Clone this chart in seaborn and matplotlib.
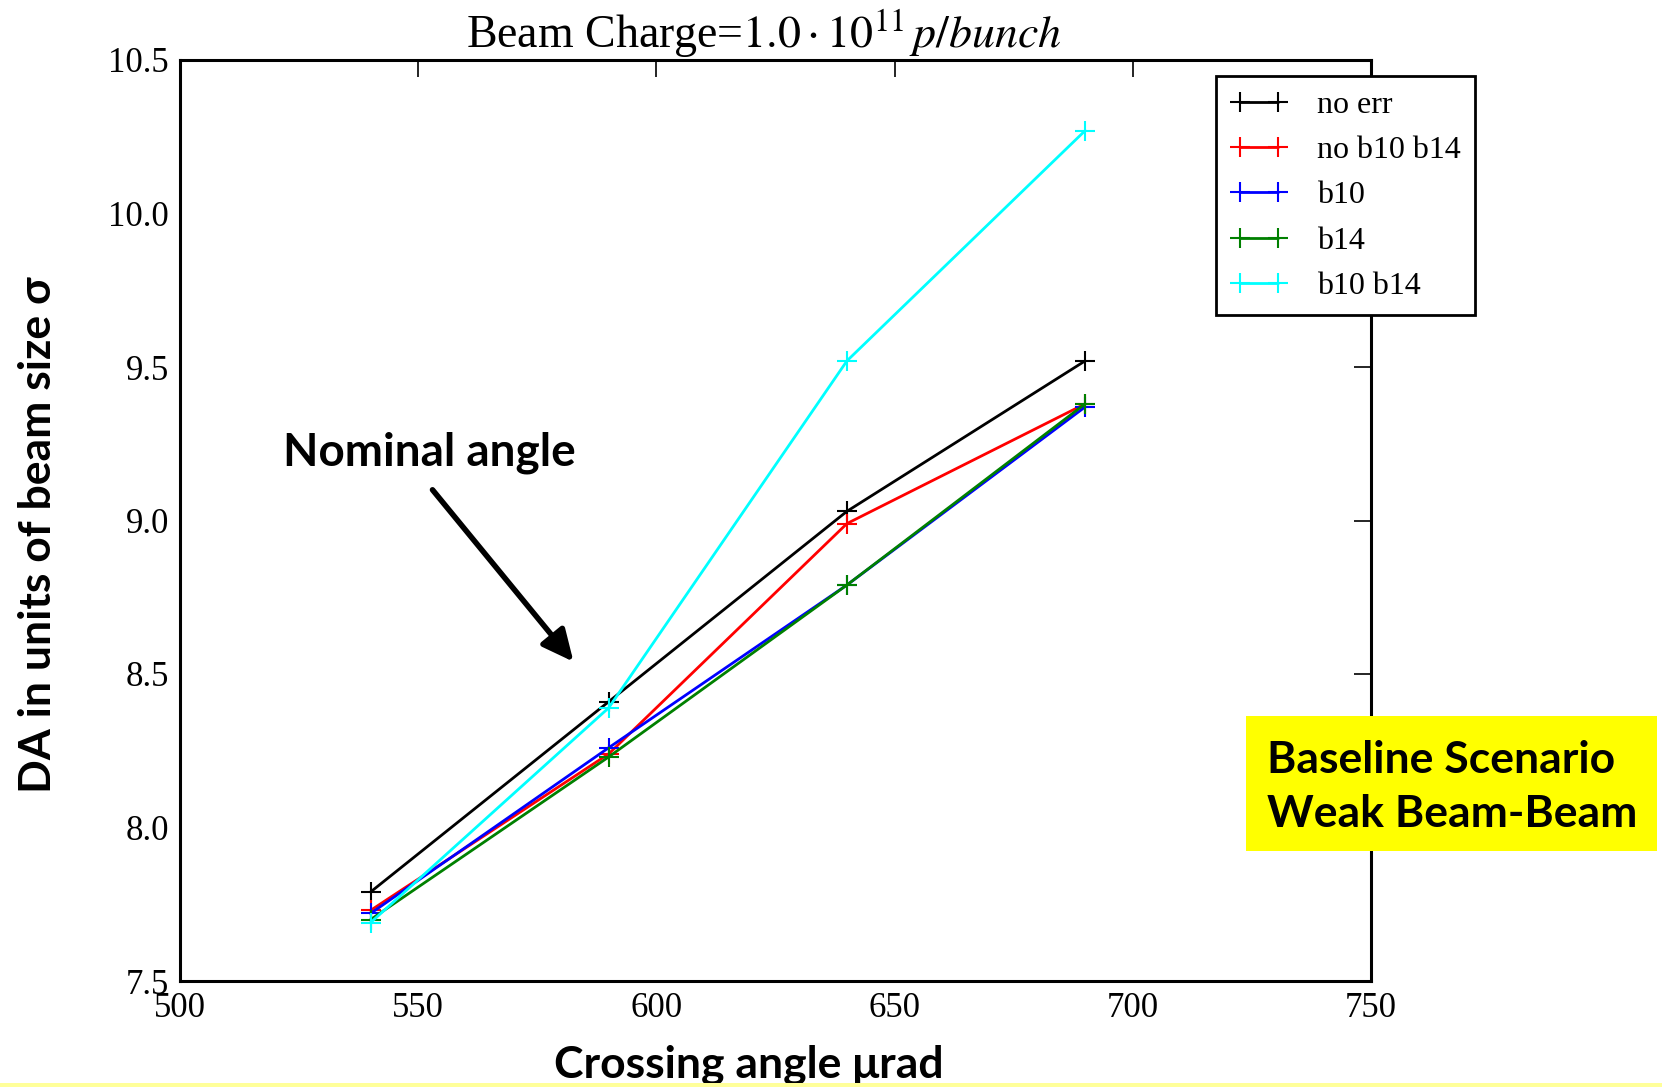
import matplotlib
matplotlib.use("Agg")
import matplotlib.pyplot as plt
import seaborn as sns
import pandas as pd

# Crossing angles (µrad) and dynamic aperture (units of beam sigma)
crossing_angle = [540, 590, 640, 690]
da_no_err = [7.79, 8.41, 9.03, 9.52]
da_no_b10_b14 = [7.73, 8.24, 8.99, 9.38]
da_b10 = [7.72, 8.26, 8.79, 9.37]
da_b14 = [7.70, 8.23, 8.79, 9.38]
da_b10_b14 = [7.69, 8.39, 9.52, 10.27]

series_names = ["no err", "no b10 b14", "b10", "b14", "b10 b14"]
series_values = [da_no_err, da_no_b10_b14, da_b10, da_b14, da_b10_b14]
series_colors = ["#000000", "#ff0000", "#0000ff", "#008000", "#00ffff"]

x_ticks = [500, 550, 600, 650, 700, 750]
y_ticks = [7.5, 8.0, 8.5, 9.0, 9.5, 10.0, 10.5]

sns.set_style("white")
plt.rcParams["font.family"] = ["Liberation Serif", "DejaVu Serif"]
plt.rcParams["mathtext.fontset"] = "stix"
plt.rcParams["text.color"] = "black"
plt.rcParams["axes.labelcolor"] = "black"
plt.rcParams["xtick.color"] = "black"
plt.rcParams["ytick.color"] = "black"

SANS_BOLD = ["Lato", "DejaVu Sans"]

fig = plt.figure(figsize=(16.62, 10.87), dpi=100)
ax = fig.add_axes([180 / 1662, 1 - 981 / 1087, 1191 / 1662, 921 / 1087])

df = pd.DataFrame({
    "angle": crossing_angle * len(series_names),
    "da": [v for vals in series_values for v in vals],
    "case": [n for n in series_names for _ in crossing_angle],
})

for name, color in zip(series_names, series_colors):
    sub = df[df["case"] == name]
    sns.lineplot(data=sub, x="angle", y="da", ax=ax, color=color, label=name,
                 marker="+", markersize=14, markeredgecolor=color,
                 markeredgewidth=1.5, linewidth=2.0)

ax.set_xlim(500, 750)
ax.set_ylim(7.5, 10.5)
ax.set_xticks(x_ticks)
ax.set_yticks(y_ticks)
ax.set_xticklabels([str(t) for t in x_ticks])
ax.set_yticklabels([f"{t:.1f}" for t in y_ticks])
ax.tick_params(axis="both", direction="in", length=12, width=1.2,
               labelsize=25, top=True, right=True, pad=8)
for sp in ax.spines.values():
    sp.set_linewidth(2.2)
    sp.set_color("black")

ax.set_title(r"Beam Charge=$1.0\cdot10^{11}\,p/bunch$", fontsize=33, pad=9,
             x=0.49)
ax.set_xlabel("Crossing angle \u03bcrad", fontsize=32, fontweight="bold",
              family=SANS_BOLD, labelpad=14)
ax.xaxis.label.set_x(0.478)
ax.set_ylabel("DA in units of beam size \u03c3", fontsize=32, fontweight="bold",
              family=SANS_BOLD, labelpad=36)
ax.yaxis.label.set_y(0.485)

leg = ax.legend(loc="upper left", bbox_to_anchor=(1216 / 1662, 1 - 76 / 1087),
                bbox_transform=fig.transFigure, numpoints=2, fontsize=23,
                frameon=True, fancybox=False, framealpha=1.0,
                handlelength=1.8, borderpad=0.45, labelspacing=0.5,
                handletextpad=0.9, borderaxespad=0.0)
leg.get_frame().set_edgecolor("black")
leg.get_frame().set_linewidth(2.0)

# pointer to the nominal crossing angle
ax.text(552.3, 9.22, "Nominal angle", fontsize=33, fontweight="bold",
        family=SANS_BOLD, ha="center", va="center")
ax.annotate("", xy=(582.6, 8.54), xytext=(553.0, 9.10),
            arrowprops=dict(arrowstyle="-|>,head_length=0.95,head_width=0.45",
                            mutation_scale=20, color="black", lw=4,
                            shrinkA=0, shrinkB=0))

fig.patches.append(plt.Rectangle((1246 / 1662, 1 - 851 / 1087),
                                 411 / 1662, 135 / 1087,
                                 transform=fig.transFigure,
                                 facecolor="#ffff00", edgecolor="none",
                                 zorder=3))
fig.text(1267 / 1662, 1 - 787 / 1087, "Baseline Scenario\nWeak Beam-Beam",
         fontsize=32, fontweight="bold", family=SANS_BOLD,
         ha="left", va="center", linespacing=1.4, zorder=4)
fig.patches.append(plt.Rectangle((0, 0), 1, 4 / 1087,
                                 transform=fig.transFigure,
                                 facecolor="#ffff99", edgecolor="none",
                                 zorder=3))

fig.savefig("out.png", dpi=100)
